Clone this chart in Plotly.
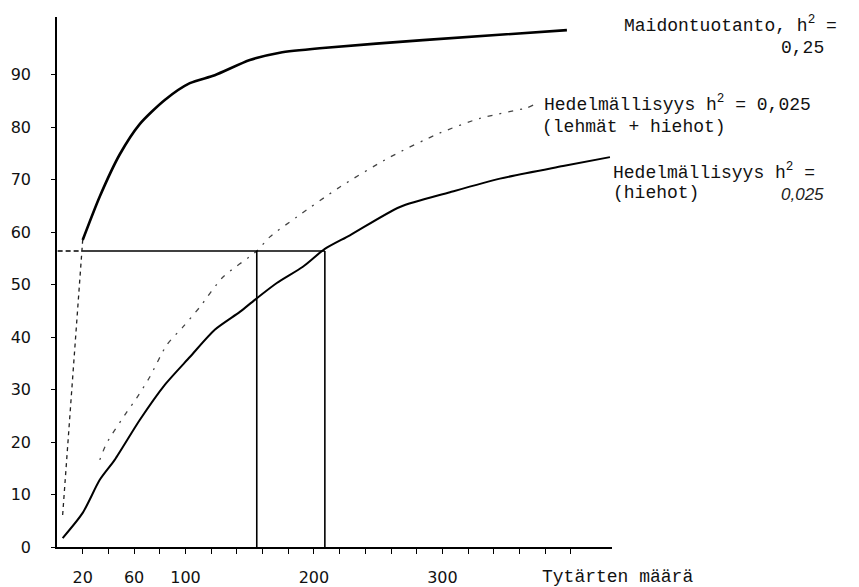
import plotly.graph_objects as go

# --- Data ---
# Milk production (Maidontuotanto), h2 = 0.25 : dashed initial part + solid part
milk_start_x = [4.4, 20.0]
milk_start_y = [6.1, 58.5]
milk_x = [20.0, 33.3, 48.8, 64.4, 83.9, 103.4, 122.8, 150.1, 173.4, 206.9, 284.8, 396.9]
milk_y = [58.5, 66.8, 74.8, 80.6, 85.2, 88.4, 89.9, 92.8, 94.2, 95.1, 96.6, 98.5]

# Fertility (lehmät + hiehot), h2 = 0.025 : dotted
fert_all_x = [33.3, 38.7, 54.3, 62.1, 72.2, 85.4, 97.9, 111.1, 129.0, 155.5, 165.7, 186.7, 220.2, 259.2, 298.1, 329.3, 365.8, 370.6]
fert_all_y = [16.6, 19.8, 25.7, 28.4, 32.4, 38.5, 41.9, 45.7, 51.4, 56.4, 59.1, 62.9, 68.6, 74.3, 78.9, 81.7, 83.7, 84.2]

# Fertility (hiehot), h2 = 0.025 : solid
fert_heif_x = [4.4, 20.0, 33.3, 44.9, 64.4, 83.9, 103.4, 122.8, 142.3, 154.0, 171.1, 191.4, 208.5, 228.0, 266.9, 305.9, 344.8, 393.9, 430.4]
fert_heif_y = [1.7, 6.5, 12.8, 16.6, 24.2, 30.9, 36.2, 41.4, 44.8, 47.1, 50.3, 53.4, 56.8, 59.4, 64.8, 67.6, 70.2, 72.6, 74.3]

# Reference level and the two read-off daughter counts
ref_level = 56.4
ref_x_dashed = [0.5, 20.0]
ref_x_solid = [20.0, 208.5]
read_x = [155.5, 208.5]

y_tickvals = [0, 10, 20, 30, 40, 50, 60, 70, 80, 90]
x_tickvals = [20, 60, 100, 200, 300]
x_minor_ticks = [40, 80, 120, 140, 160, 180, 220, 240, 260, 280, 320, 340, 360, 380, 400]

X_RANGE = [0, 432]
Y_RANGE = [0, 101]

fig = go.Figure()

fig.add_trace(go.Scatter(x=milk_start_x, y=milk_start_y, mode="lines",
                         line=dict(color="#222", width=1.3, dash="4px,4px")))
fig.add_trace(go.Scatter(x=milk_x, y=milk_y, mode="lines",
                         line=dict(color="black", width=2.6, shape="spline", smoothing=0.7)))
fig.add_trace(go.Scatter(x=fert_all_x, y=fert_all_y, mode="lines",
                         line=dict(color="#444", width=1.3, shape="spline", smoothing=0.7,
                                   dash="2px,7px,5px,7px")))
fig.add_trace(go.Scatter(x=fert_heif_x, y=fert_heif_y, mode="lines",
                         line=dict(color="black", width=2.0, shape="spline", smoothing=0.7)))

# horizontal reference line
fig.add_trace(go.Scatter(x=ref_x_dashed, y=[ref_level, ref_level], mode="lines",
                         line=dict(color="black", width=1.4, dash="5px,3px")))
fig.add_trace(go.Scatter(x=ref_x_solid, y=[ref_level, ref_level], mode="lines",
                         line=dict(color="black", width=1.6)))
# vertical read-off lines
for rx in read_x:
    fig.add_trace(go.Scatter(x=[rx, rx], y=[0, ref_level], mode="lines",
                             line=dict(color="black", width=1.6)))

L, R, T, B = 57, 247, 17, 40
W, H = 859, 587
PW, PH = W - L - R, H - T - B


def px(xp):
    return (xp - L) / PW


def py(yp):
    return (H - B - yp) / PH


mono = dict(family="Liberation Mono, DejaVu Sans Mono, monospace", size=18, color="#111")
labels = [
    ("Maidontuotanto, h<sup>2</sup> =", 622, 24, "left", mono),
    ("0,25", 826, 48, "right", mono),
    ("Hedelmällisyys h<sup>2</sup> = 0,025", 542, 104, "left", mono),
    ("(lehmät + hiehot)", 540, 127, "left", mono),
    ("Hedelmällisyys h<sup>2</sup> =", 611, 171, "left", mono),
    ("(hiehot)", 611, 193, "left", mono),
    ("<i>0,025</i>", 826, 194, "right", dict(family="Liberation Sans, sans-serif", size=17, color="#222")),
    ("Tytärten määrä", 540, 577, "left", mono),
]
for text, xp, yp, anchor, font in labels:
    fig.add_annotation(text=text, x=px(xp), y=py(yp), xref="paper", yref="paper",
                       xanchor=anchor, yanchor="middle", showarrow=False, font=font)

tickfont = dict(family="DejaVu Sans, Verdana, sans-serif", size=16, color="#111")

fig.update_layout(
    width=W, height=H,
    margin=dict(l=L, r=R, t=T, b=B, pad=0, autoexpand=False),
    paper_bgcolor="white", plot_bgcolor="white",
    showlegend=False,
    xaxis=dict(range=X_RANGE, showgrid=False, zeroline=False, showline=True, automargin=False,
               linecolor="black", linewidth=1.5,
               tickvals=x_tickvals, ticks="outside", ticklen=5, tickwidth=1.3, tickcolor="black",
               tickfont=tickfont, ticklabelstandoff=10,
               minor=dict(tickvals=x_minor_ticks, ticks="outside", ticklen=5, tickwidth=1.3,
                          tickcolor="black", showgrid=False)),
    yaxis=dict(range=Y_RANGE, showgrid=False, zeroline=False, showline=True, automargin=False,
               linecolor="black", linewidth=1.5,
               tickvals=y_tickvals, ticks="outside", ticklen=4, tickwidth=1.3, tickcolor="black",
               tickfont=tickfont, ticklabelstandoff=17),
)

fig.write_html("out.html")
